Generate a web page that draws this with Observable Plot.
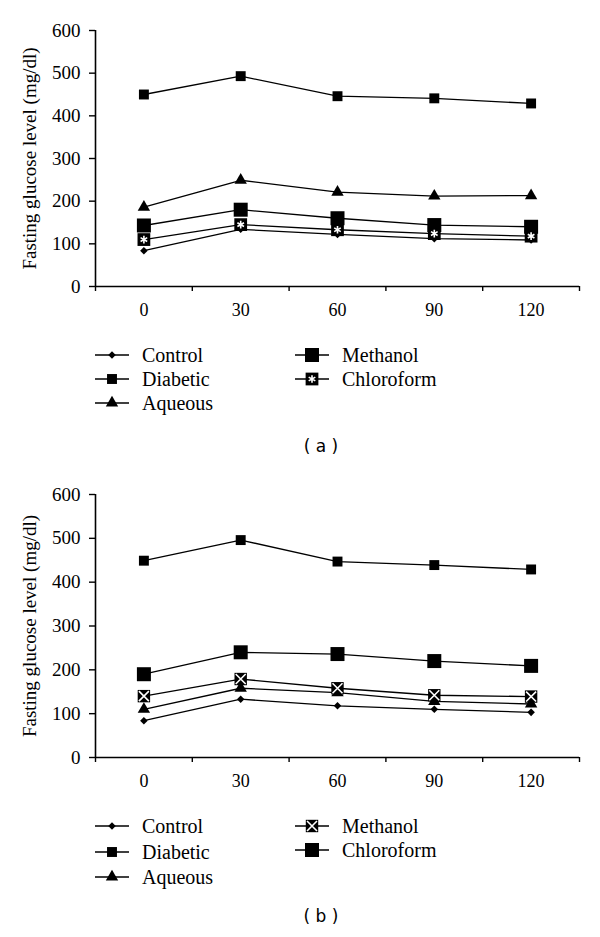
<!DOCTYPE html>
<html>
<head>
<meta charset="utf-8">
<script src="https://cdn.jsdelivr.net/npm/d3@7"></script>
<script src="https://cdn.jsdelivr.net/npm/@observablehq/plot@0.6"></script>
<style>
  body { margin: 0; background: #fff; }
  #wrap { position: relative; width: 600px; height: 937px; font-family: "Liberation Serif", serif; color: #000; }
  .panel { position: absolute; left: 0; }
  .item { position: absolute; display: flex; align-items: center; height: 24px; font-size: 20px; white-space: nowrap; }
  .item svg { display: block; }
  .cap { position: absolute; left: 0; width: 642px; text-align: center; font-family: "DejaVu Sans", sans-serif; font-size: 17px; line-height: 24px; }
</style>
</head>
<body>
<div id="wrap"></div>
<script>
// ---------- data ----------
const times = [0, 30, 60, 90, 120];
const yTicks = [0, 100, 200, 300, 400, 500, 600];
const seriesNames = ["Control", "Diabetic", "Aqueous", "Methanol", "Chloroform"];

// Panel (a)
const aControl    = [84, 134, 122, 112, 109];
const aDiabetic   = [450, 493, 446, 441, 429];
const aAqueous    = [186, 249, 221, 212, 213];
const aMethanol   = [143, 180, 160, 144, 140];
const aChloroform = [110, 145, 133, 124, 118];

// Panel (b)
const bControl    = [84, 133, 118, 110, 103];
const bDiabetic   = [449, 496, 447, 439, 429];
const bAqueous    = [110, 158, 148, 128, 122];
const bMethanol   = [140, 179, 158, 142, 139];
const bChloroform = [190, 240, 236, 220, 209];

const yLabel = "Fasting glucose level (mg/dl)";

// ---------- styles (marker look per series, per panel) ----------
const stylesA = {
  Control:    {symbol: "diamond2", r: 3.4},
  Diabetic:   {symbol: "square", r: 5.6},
  Aqueous:    {symbol: "triangle", r: 4.6},
  Methanol:   {symbol: "square", r: 7.9},
  Chloroform: {symbol: "square", r: 7.2, inner: "asterisk", innerR: 3.6}
};
const stylesB = {
  Control:    {symbol: "diamond2", r: 3.4},
  Diabetic:   {symbol: "square", r: 5.6},
  Aqueous:    {symbol: "triangle", r: 4.6},
  Methanol:   {symbol: "square", r: 7.0, inner: "times", innerR: 4.6},
  Chloroform: {symbol: "square", r: 7.9}
};

function tidy(valuesList) {
  const rows = [];
  seriesNames.forEach((name, s) => {
    times.forEach((t, i) => rows.push({series: name, t, v: valuesList[s][i]}));
  });
  return rows;
}

function makeChart(rows, styles, marginTop, plotHeight) {
  const step = times[1] - times[0];
  const bounds = times.map(t => t - step / 2).concat([times[times.length - 1] + step / 2]);
  const marks = [
    Plot.axisY({ticks: yTicks, tickSize: 6, tickPadding: 9, fontSize: 19, strokeWidth: 1.4,
      label: yLabel, labelAnchor: "center", labelArrow: "none", labelOffset: 73}),
    Plot.axisX({ticks: bounds, tickSize: 5, tickFormat: () => "", strokeWidth: 1.4, label: null}),
    Plot.axisX({ticks: times, tickSize: 0, tickPadding: 17, fontSize: 18, label: null}),
    Plot.ruleY([0], {strokeWidth: 1.6}),
    Plot.ruleX([bounds[0]], {strokeWidth: 1.6})
  ];
  for (const name of seriesNames) {
    const d = rows.filter(r => r.series === name);
    marks.push(Plot.line(d, {x: "t", y: "v", stroke: "black", strokeWidth: 1.3}));
  }
  for (const name of seriesNames) {
    const d = rows.filter(r => r.series === name);
    const st = styles[name];
    marks.push(Plot.dot(d, {x: "t", y: "v", symbol: st.symbol, r: st.r, fill: "black", stroke: "none"}));
    if (st.inner) {
      marks.push(Plot.dot(d, {x: "t", y: "v", symbol: st.inner, r: st.innerR, stroke: "white", strokeWidth: 1.6, fill: "none"}));
    }
  }
  return Plot.plot({
    width: 600,
    height: marginTop + plotHeight + 48,
    marginTop,
    marginBottom: 48,
    marginLeft: 95,
    marginRight: 21,
    x: {type: "linear", domain: [bounds[0], bounds[bounds.length - 1]], label: null},
    y: {domain: [0, 600], label: null},
    style: {fontFamily: "'Liberation Serif', serif", background: "white", color: "black", overflow: "visible"},
    marks
  });
}

const symbolMap = {
  diamond2: d3.symbolDiamond2, square: d3.symbolSquare, triangle: d3.symbolTriangle,
  asterisk: d3.symbolAsterisk, times: d3.symbolTimes
};

function swatch(st) {
  const w = 34, h = 24;
  const svg = d3.create("svg").attr("width", w).attr("height", h);
  svg.append("line").attr("x1", 0).attr("x2", w).attr("y1", h / 2).attr("y2", h / 2)
    .attr("stroke", "black").attr("stroke-width", 1.3);
  svg.append("path").attr("transform", `translate(${w / 2},${h / 2})`)
    .attr("d", d3.symbol(symbolMap[st.symbol], st.r * st.r * Math.PI)()).attr("fill", "black");
  if (st.inner) {
    svg.append("path").attr("transform", `translate(${w / 2},${h / 2})`)
      .attr("d", d3.symbol(symbolMap[st.inner], st.innerR * st.innerR * Math.PI)())
      .attr("fill", "none").attr("stroke", "white").attr("stroke-width", 1.6);
  }
  return svg.node();
}

function legend(parent, styles, rowsY1, rowsY2) {
  const cols = [
    {x: 95, names: seriesNames.slice(0, 3), ys: rowsY1},
    {x: 295, names: seriesNames.slice(3), ys: rowsY2}
  ];
  for (const c of cols) {
    c.names.forEach((name, i) => {
      const item = document.createElement("div");
      item.className = "item";
      item.style.left = c.x + "px";
      item.style.top = (c.ys[i] - 12) + "px";
      item.appendChild(swatch(styles[name]));
      const span = document.createElement("span");
      span.textContent = name;
      span.style.marginLeft = "13px";
      item.appendChild(span);
      parent.appendChild(item);
    });
  }
}

function caption(parent, text, y) {
  const c = document.createElement("div");
  c.className = "cap";
  c.style.top = (y - 12) + "px";
  c.textContent = text;
  parent.appendChild(c);
}

const wrap = document.getElementById("wrap");

const pa = document.createElement("div");
pa.className = "panel"; pa.style.top = "0px";
pa.appendChild(makeChart(tidy([aControl, aDiabetic, aAqueous, aMethanol, aChloroform]), stylesA, 30, 256));
wrap.appendChild(pa);
legend(wrap, stylesA, [355, 379, 403], [355, 379]);
caption(wrap, "( a )", 446);

const pb = document.createElement("div");
pb.className = "panel"; pb.style.top = "464px";
pb.appendChild(makeChart(tidy([bControl, bDiabetic, bAqueous, bMethanol, bChloroform]), stylesB, 30, 263));
wrap.appendChild(pb);
legend(wrap, stylesB, [826, 852, 877], [826, 850]);
caption(wrap, "( b )", 916);
</script>
</body>
</html>
